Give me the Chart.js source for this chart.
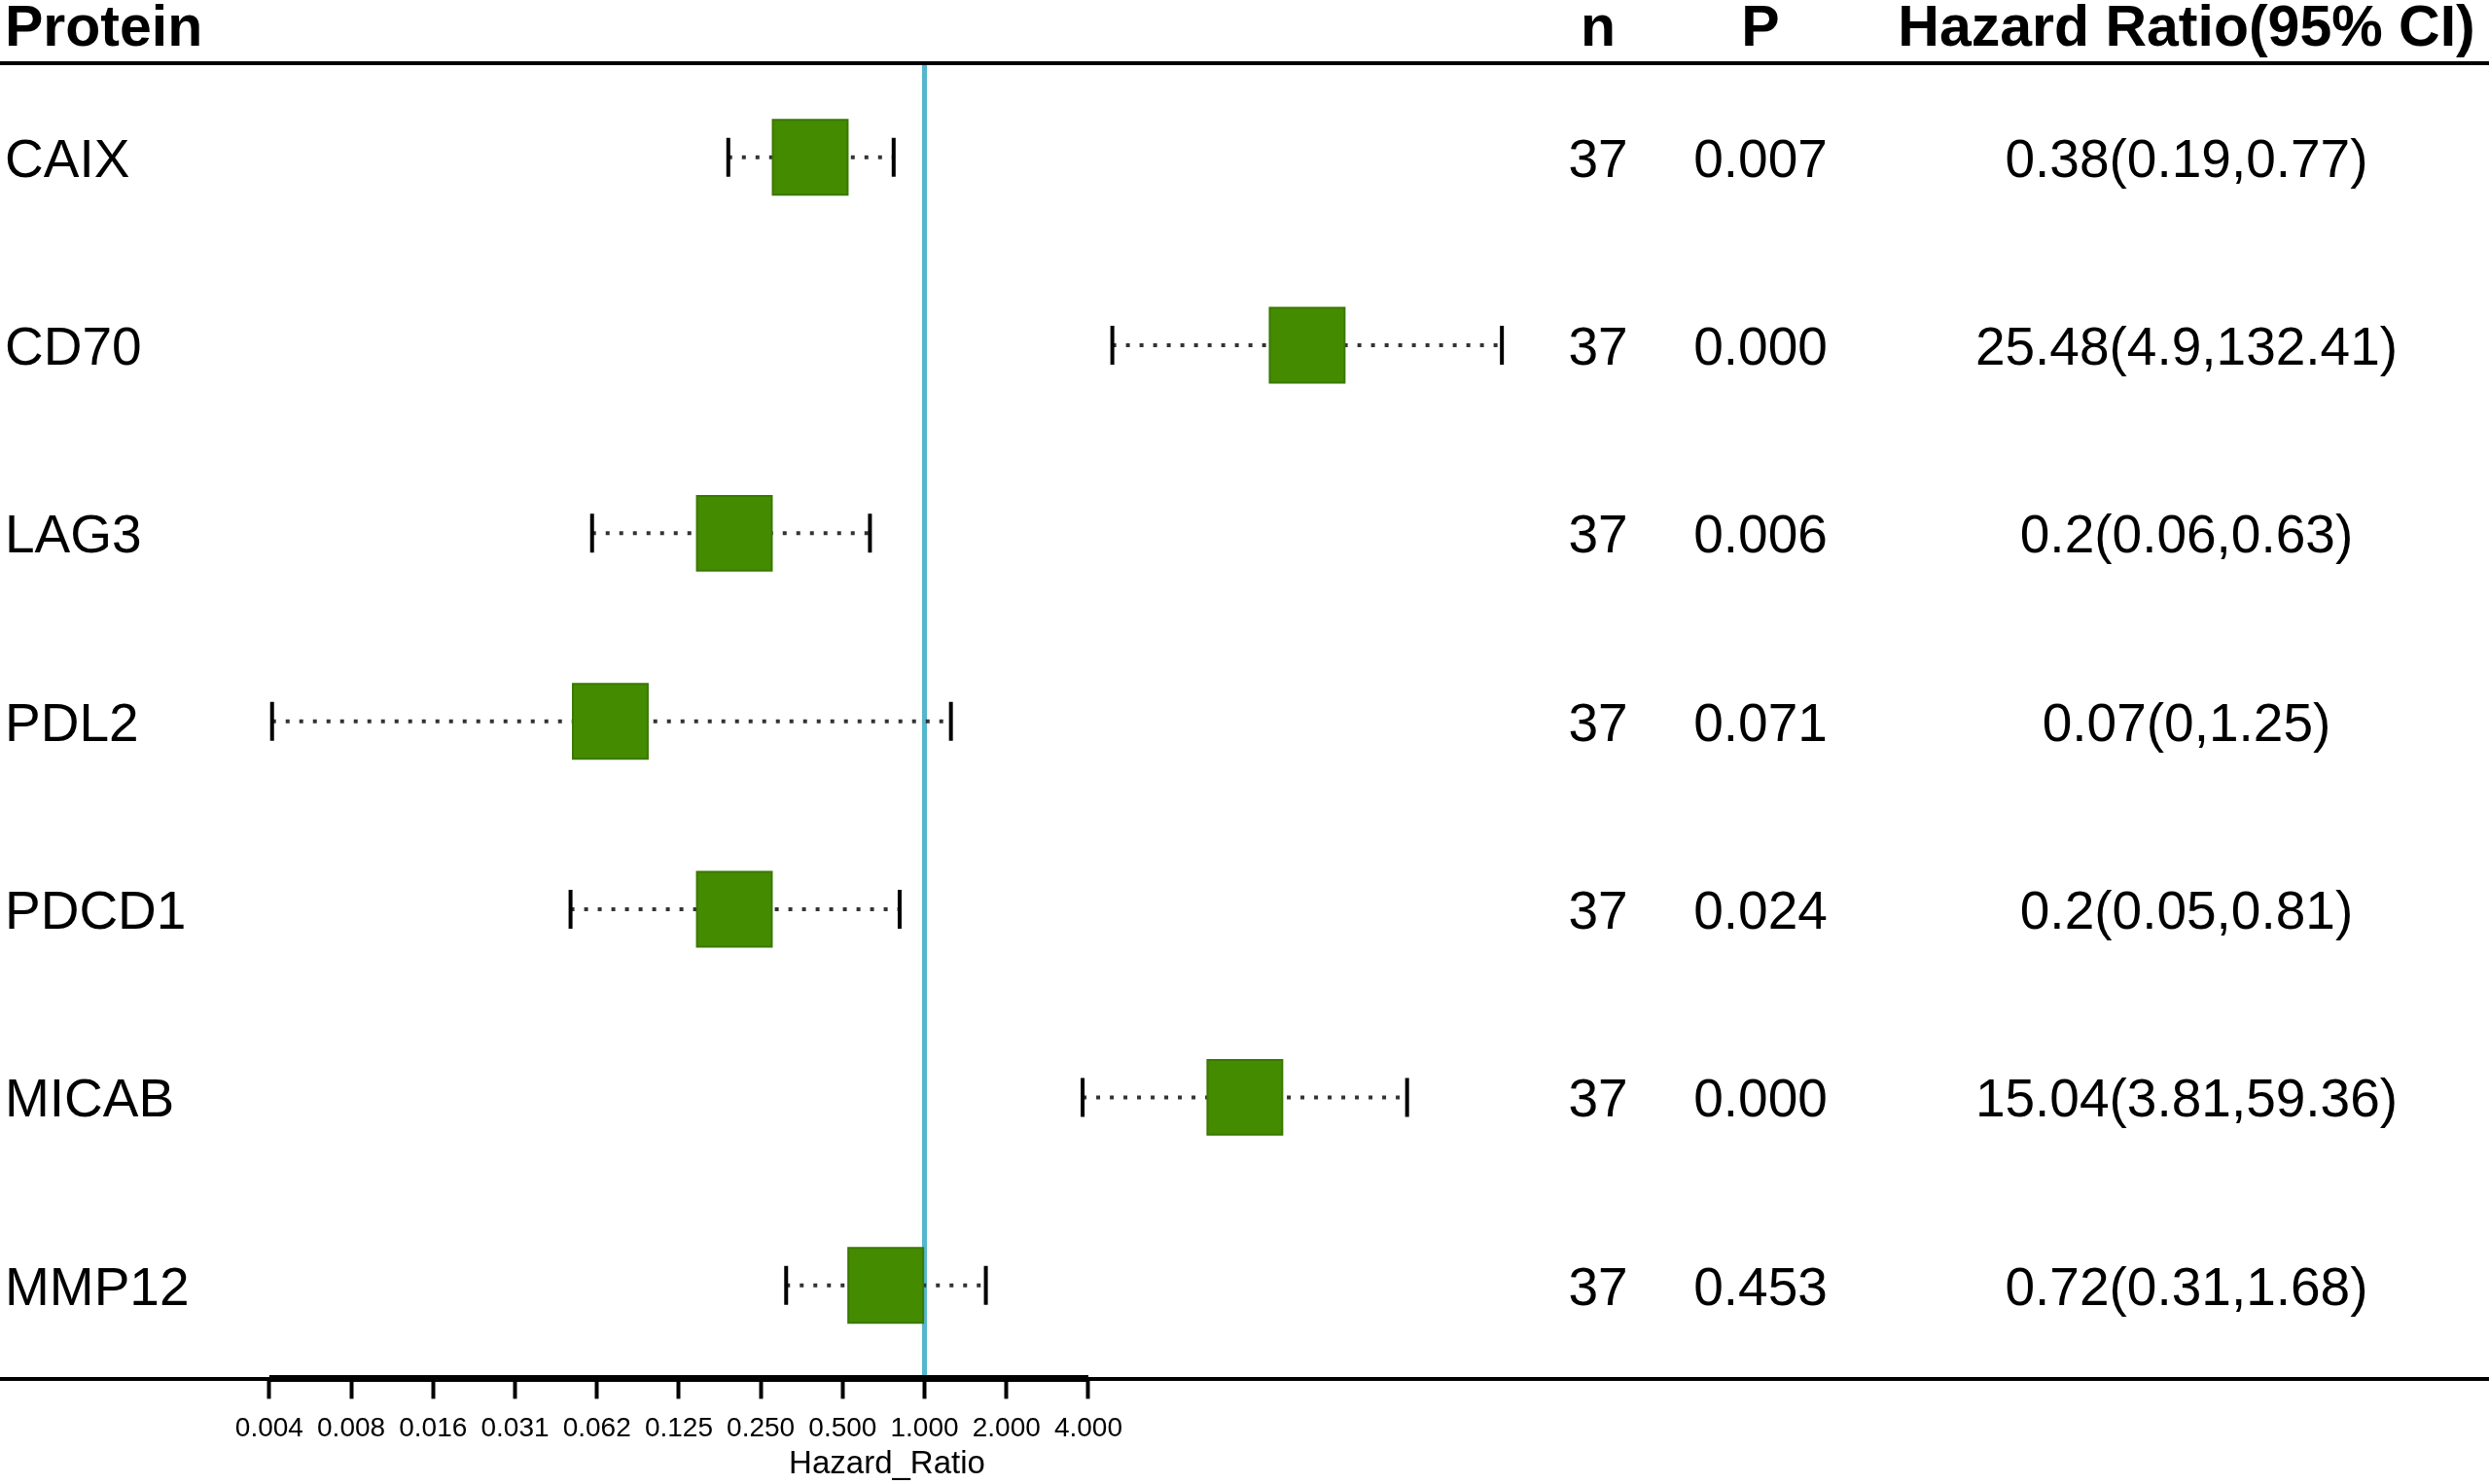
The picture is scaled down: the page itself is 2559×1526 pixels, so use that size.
<!DOCTYPE html>
<html>
<head>
<meta charset="utf-8">
<title>Protein hazard ratios</title>
<script src="https://cdn.jsdelivr.net/npm/chart.js@4.4.1/dist/chart.umd.min.js"></script>
<style>
  html, body { margin: 0; padding: 0; background: #fff; }
  #wrap { position: relative; width: 2559px; height: 1526px; }
</style>
</head>
<body>
<div id="wrap"><canvas id="forest"></canvas></div>
<script>
const proteins = ['CAIX', 'CD70', 'LAG3', 'PDL2', 'PDCD1', 'MICAB', 'MMP12'];
const hazardRatio = [0.38, 25.48, 0.2, 0.07, 0.2, 15.04, 0.72];
const ciLower = [0.19, 4.9, 0.06, 0.004, 0.05, 3.81, 0.31];
const ciUpper = [0.77, 132.41, 0.63, 1.25, 0.81, 59.36, 1.68];
const sampleSize = [37, 37, 37, 37, 37, 37, 37];
const pValue = ['0.007', '0.000', '0.006', '0.071', '0.024', '0.000', '0.453'];
const hrLabels = ['0.38(0.19,0.77)', '25.48(4.9,132.41)', '0.2(0.06,0.63)', '0.07(0,1.25)',
                  '0.2(0.05,0.81)', '15.04(3.81,59.36)', '0.72(0.31,1.68)'];
const tickValues = [0.00390625, 0.0078125, 0.015625, 0.03125, 0.0625, 0.125, 0.25, 0.5, 1, 2, 4];
const tickLabels = ['0.004', '0.008', '0.016', '0.031', '0.062', '0.125', '0.250', '0.500', '1.000', '2.000', '4.000'];

const FONT = '"Liberation Sans", Arial, Helvetica, sans-serif';
const BOX_GREEN = '#458B00';
const REF_BLUE = '#55B7CC';

// column centres of the text table on the right
const COL_N = 1643, COL_P = 1810, COL_HR = 2248;

// table text, header rule, heavier axis segment and axis title
const tablePlugin = {
    id: 'forestTable',
    afterDraw(chart) {
        const {ctx, chartArea, scales: {x, y}} = chart;
        ctx.save();
        ctx.fillStyle = '#000';
        ctx.strokeStyle = '#000';

        ctx.font = `bold 59px ${FONT}`;
        ctx.textBaseline = 'alphabetic';
        ctx.textAlign = 'left';
        ctx.fillText('Protein', 5, 47);
        ctx.textAlign = 'center';
        ctx.fillText('n', COL_N, 47);
        ctx.fillText('P', COL_P, 47);
        ctx.fillText('Hazard Ratio(95% CI)', COL_HR, 47);

        ctx.lineWidth = 4;
        ctx.beginPath();
        ctx.moveTo(chartArea.left, chartArea.top);
        ctx.lineTo(chartArea.right, chartArea.top);
        ctx.stroke();

        ctx.font = `55px ${FONT}`;
        proteins.forEach((name, i) => {
            const base = y.getPixelForValue(i) + 20;
            ctx.textAlign = 'left';
            ctx.fillText(name, 5, base);
            ctx.textAlign = 'center';
            ctx.fillText(String(sampleSize[i]), COL_N, base);
            ctx.fillText(pValue[i], COL_P, base);
            ctx.fillText(hrLabels[i], COL_HR, base);
        });

        // the plotted axis itself is a bit heavier than the table rule
        ctx.lineWidth = 7;
        ctx.beginPath();
        ctx.moveTo(x.getPixelForValue(tickValues[0]), chartArea.bottom - 1);
        ctx.lineTo(x.getPixelForValue(tickValues[tickValues.length - 1]), chartArea.bottom - 1);
        ctx.stroke();

        ctx.font = `33px ${FONT}`;
        ctx.textBaseline = 'middle';
        ctx.textAlign = 'center';
        ctx.fillText('Hazard_Ratio', 912, 1506);
        ctx.restore();
    }
};

const boxes = {
    data: proteins.map((p, i) => ({x: hazardRatio[i], y: p})),
    pointStyle: 'rect',
    pointRadius: 54.4,
    pointHoverRadius: 54.4,
    backgroundColor: BOX_GREEN,
    borderColor: '#3A7800',
    borderWidth: 2
};

const whiskers = proteins.map((p, i) => ({
    data: [{x: ciLower[i], y: p}, {x: ciUpper[i], y: p}],
    showLine: true,
    borderColor: '#333',
    borderWidth: 4,
    borderDash: [4, 10],
    pointStyle: 'line',
    pointRotation: 90,
    pointRadius: 20,
    pointHoverRadius: 20,
    pointBorderColor: '#000',
    pointBorderWidth: 4
}));

new Chart(document.getElementById('forest'), {
    type: 'scatter',
    data: {datasets: [boxes, ...whiskers]},
    options: {
        responsive: true,
        maintainAspectRatio: false,
        animation: false,
        events: [],
        layout: {autoPadding: false, padding: {top: 65, bottom: 26, left: 0, right: 0}},
        plugins: {legend: {display: false}, tooltip: {enabled: false}},
        scales: {
            x: {
                type: 'logarithmic',
                min: 0.0004,
                max: 562000,
                bounds: 'data',
                afterBuildTicks: (scale) => {
                    scale.ticks = tickValues.map(v => ({value: v}));
                },
                ticks: {
                    autoSkip: false,
                    maxRotation: 0,
                    padding: 14,
                    color: '#000',
                    font: {family: FONT, size: 28},
                    callback: (value, index) => tickLabels[index]
                },
                grid: {
                    drawOnChartArea: true,
                    color: (c) => (c.tick && c.tick.value === 1 ? REF_BLUE : 'rgba(0,0,0,0)'),
                    lineWidth: 5,
                    drawTicks: true,
                    tickLength: 20,
                    tickWidth: 4,
                    tickColor: '#000'
                },
                border: {display: true, color: '#000', width: 4}
            },
            y: {
                type: 'category',
                labels: proteins,
                offset: true,
                display: false
            }
        }
    },
    plugins: [tablePlugin]
});
</script>
</body>
</html>
